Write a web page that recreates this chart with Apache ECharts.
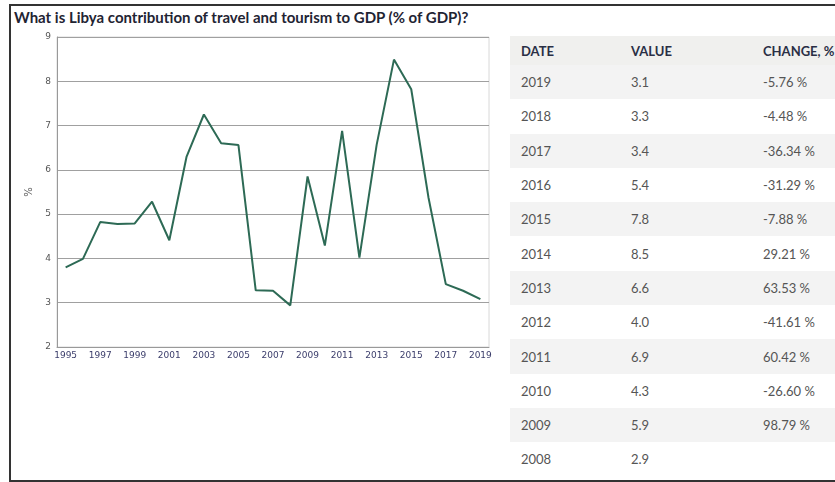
<!DOCTYPE html>
<html>
<head>
<meta charset="utf-8">
<script src="https://cdn.jsdelivr.net/npm/echarts@6/dist/echarts.min.js"></script>
<style>
  html, body { margin: 0; padding: 0; background: #fff; }
  body { width: 835px; height: 482px; overflow: hidden; position: relative; font-family: Lato, 'Open Sans', sans-serif; }
  .frame {
    position: absolute; left: 9px; top: 4px; width: 840px; height: 474px;
    border: 2px solid #333; border-right: none;
  }
  .title {
    position: absolute; left: 14px; top: 8px;
    font-size: 15px; font-weight: bold; color: #1f2433;
  }
  #chart { position: absolute; left: 0; top: 0; width: 500px; height: 482px; }
  table {
    position: absolute; left: 510px; top: 36px; width: 340px;
    border-collapse: collapse; font-size: 13px;
  }
  th, td { text-align: left; padding: 0 0 0 11px; }
  th { height: 29px; background: #f0f0ee; color: #2a2f45; font-weight: bold; }
  td { height: 34.3px; color: #555; }
  tr:nth-child(even) td { background: #f3f3f3; }
  .c1 { width: 99px; } .c2 { width: 121px; }
</style>
</head>
<body>
<div class="frame"></div>
<div class="title">What is Libya contribution of travel and tourism to GDP (% of GDP)?</div>
<div id="chart"></div>
<table id="tbl"></table>
<script>
const years = ['1995','1996','1997','1998','1999','2000','2001','2002','2003','2004','2005','2006','2007',
  '2008','2009','2010','2011','2012','2013','2014','2015','2016','2017','2018','2019'];
const values = [3.80, 3.99, 4.82, 4.78, 4.79, 5.28, 4.41, 6.30, 7.25, 6.60, 6.56, 3.28, 3.27,
  2.94, 5.85, 4.29, 6.88, 4.02, 6.57, 8.49, 7.82, 5.37, 3.42, 3.27, 3.08];

const tableDates = ['2019','2018','2017','2016','2015','2014','2013','2012','2011','2010','2009','2008'];
const tableValues = ['3.1','3.3','3.4','5.4','7.8','8.5','6.6','4.0','6.9','4.3','5.9','2.9'];
const tableChanges = ['-5.76 %','-4.48 %','-36.34 %','-31.29 %','-7.88 %','29.21 %','63.53 %','-41.61 %',
  '60.42 %','-26.60 %','98.79 %',''];

const tbl = document.getElementById('tbl');
tbl.innerHTML = '<tr><th class="c1">DATE</th><th class="c2">VALUE</th><th>CHANGE, %</th></tr>' +
  tableDates.map((d, i) => `<tr><td>${d}</td><td>${tableValues[i]}</td><td>${tableChanges[i]}</td></tr>`).join('');

const chart = echarts.init(document.getElementById('chart'));
chart.setOption({
  animation: false,
  grid: { left: 57, top: 37, width: 432, height: 310, show: true, borderColor: '#d8d8d8', borderWidth: 1 },
  xAxis: {
    type: 'category',
    data: years,
    boundaryGap: true,
    axisLine: { lineStyle: { color: '#999' } },
    axisTick: { interval: 0, length: 4, lineStyle: { color: '#999' } },
    axisLabel: { interval: 1, fontSize: 9, color: '#3b3d6b', margin: 4, fontFamily: 'DejaVu Sans' }
  },
  yAxis: {
    type: 'value',
    min: 2, max: 9, interval: 1,
    name: '%',
    nameLocation: 'middle',
    nameGap: 17,
    nameRotate: 90,
    nameTextStyle: { fontSize: 10, color: '#555', fontFamily: 'DejaVu Sans' },
    axisLine: { show: true, lineStyle: { color: '#999' } },
    axisTick: { show: false },
    axisLabel: { fontSize: 9, color: '#555', margin: 6, fontFamily: 'DejaVu Sans' },
    splitLine: { lineStyle: { color: '#a0a0a0', width: 1 } }
  },
  series: [{
    type: 'line',
    data: values,
    symbol: 'none',
    lineStyle: { color: '#2d6a55', width: 2 }
  }]
});
</script>
</body>
</html>
